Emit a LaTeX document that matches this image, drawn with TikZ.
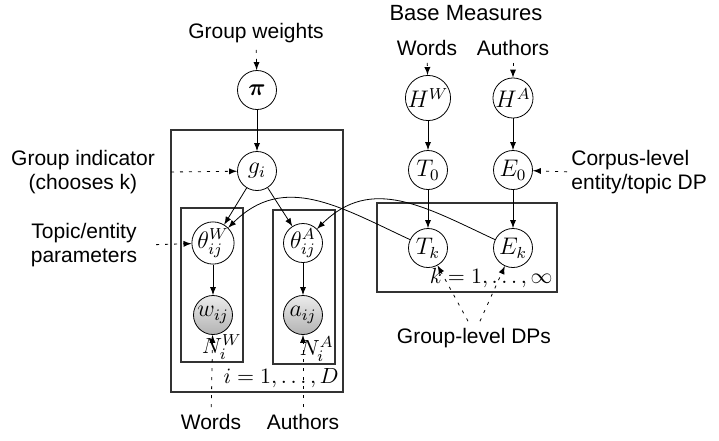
\documentclass[tikz,border=0pt]{standalone}
\usepackage{amsmath,amssymb}
\usepackage[no-math]{fontspec}
\setmainfont{Liberation Sans}
\usepackage{tikz}
\usetikzlibrary{arrows,calc,positioning}

\begin{document}
\begin{tikzpicture}[x=0.5pt,y=-0.5pt,>=latex,
	font=\fontsize{10.5}{12.4}\selectfont,
	latent/.style={draw,circle,minimum size=19.5pt,inner sep=0pt,font=\fontsize{11.5}{13}\selectfont},
	obs/.style={latent,top color=gray!15,bottom color=gray!60},
	plate/.style={draw,semithick,black!80},
	annot/.style={->,dash pattern=on 1.5pt off 3pt},
	pl/.style={anchor=south east,inner sep=1pt,font=\fontsize{11}{13}\selectfont},
	lbl/.style={align=center}]
			\useasboundingbox (0,0) rectangle (719,440);
			
			% plates
			\draw[plate] (171,130) rectangle (343,392);
			\draw[plate] (181,208) rectangle (243,362);
			\draw[plate] (273,210) rectangle (335,364);
			\draw[plate] (377,203) rectangle (557,292);
			\node[pl] (NW) at (244,362) {$N_i^W$};
			\node[pl] (NA) at (336,364) {$N_i^A$};
			\node[pl,inner sep=2pt] (ND) at (343,392) {$i=1,\ldots,D$};
			\node[pl,inner sep=2pt] (NK) at (557,292) {$k=1,\ldots,\infty$};
			
			% variables
			\node[latent] (pi) at (257,90) {$\boldsymbol{\pi}$};
			\node[latent] (gi) at (257,171) {$g_i$};
			\node[latent] (thW) at (213,243) {$\theta_{ij}^W$};
			\node[latent] (thA) at (303,243) {$\theta_{ij}^A$};
			\node[obs] (wij) at (213,315) {$w_{ij}$};
			\node[obs] (aij) at (303,315) {$a_{ij}$};
			\node[latent] (HW) at (428,98) {$H^W$};
			\node[latent] (HA) at (513,98) {$H^A$};
			\node[latent] (T0) at (428,170) {$T_0$};
			\node[latent] (E0) at (513,170) {$E_0$};
			\node[latent] (Tk) at (428,248) {$T_k$};
			\node[latent] (Ek) at (513,248) {$E_k$};
			
			% annotations
			\node[lbl] (gw) at (256,33) {Group weights};
			\node[lbl,font=\fontsize{11}{13}\selectfont] (bm) at (466,13) {Base Measures};
			\node[lbl] (bmW) at (427,48) {Words};
			\node[lbl] (bmA) at (513,48) {Authors};
			\node[lbl] (gind) at (83,172) {Group indicator\\(chooses k)};
			\node[lbl] (tep) at (84,245) {Topic/entity\\parameters};
			\node[align=left,anchor=west,inner sep=0pt] (corp) at (571,172) {Corpus-level\\entity/topic DP};
			\node[lbl] (gdp) at (474,338) {Group-level DPs};
			\node[lbl] (wW) at (211,422) {Words};
			\node[lbl] (wA) at (303,422) {Authors};
			\coordinate (gindo) at (171,172);
			
			\draw[->] (pi) -- (gi);
			\draw[->] (gi) -- (thW);
			\draw[->] (gi) -- (thA);
			\draw[->] (thW) -- (wij);
			\draw[->] (thA) -- (aij);
			\draw[->] (HW) -- (T0);
			\draw[->] (HA) -- (E0);
			\draw[->] (T0) -- (Tk);
			\draw[->] (E0) -- (Ek);
			\draw[->] (Tk) to[out=155,in=45,looseness=1.1] (thW);
			\draw[->] (Ek) to[out=155,in=45,looseness=1.1] (thA);
			
			\draw[annot] (gw) -- (pi);
			\draw[annot] (bmW) -- (HW);
			\draw[annot] (bmA) -- (HA);
			\draw[annot] (gindo) -- (gi);
			\draw[annot,shorten <=6pt] (tep.east) -- (thW);
			\draw[annot,shorten <=2pt] (corp.west) -- (E0);
			\draw[annot] (wW) -- (wij);
			\draw[annot] (wA) -- (aij);
			\draw[annot] ([xshift=-3pt]gdp.north) -- (Tk);
			\draw[annot] ([xshift=3pt]gdp.north) -- (Ek);
		\end{tikzpicture}
\end{document}
